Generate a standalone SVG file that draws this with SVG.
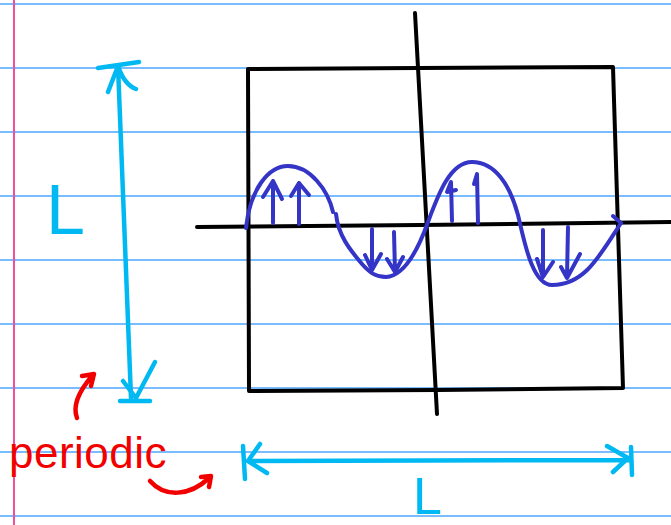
<svg xmlns="http://www.w3.org/2000/svg" width="671" height="525" viewBox="0 0 671 525">
<style>
.rule{stroke:#4da6ff;stroke-width:1.5}
.ink{fill:none;stroke-linecap:round;stroke-linejoin:round}
.blk{stroke:#000;stroke-width:4}
.cyan{stroke:#00b9f2;stroke-width:4.5}
.blue{stroke:#3434c6;stroke-width:4}
.red{stroke:#f20000;stroke-width:4.5}
.hand{font-family:"Liberation Sans",sans-serif}
</style>
<rect width="671" height="525" fill="#fff"/>
<g id="paper">
<line class="rule" x1="0" y1="4" x2="671" y2="4"/>
<line class="rule" x1="0" y1="68" x2="671" y2="68"/>
<line class="rule" x1="0" y1="132" x2="671" y2="132"/>
<line class="rule" x1="0" y1="196" x2="671" y2="196"/>
<line class="rule" x1="0" y1="260" x2="671" y2="260"/>
<line class="rule" x1="0" y1="324" x2="671" y2="324"/>
<line class="rule" x1="0" y1="388" x2="671" y2="388"/>
<line class="rule" x1="0" y1="452" x2="671" y2="452"/>
<line class="rule" x1="0" y1="516" x2="671" y2="516"/>
<line x1="14" y1="0" x2="14" y2="525" stroke="#f0509a" stroke-width="2"/>
</g>
<g id="box">
<path class="ink blk" d="M248,69 L418,68 L613,67 L614,100 L623,388 L437,390 L249,391 L248,69"/>
<line class="ink blk" x1="415" y1="13" x2="437" y2="414"/>
<path class="ink blk" d="M197,227 L420,225 L671,222"/>
</g>
<g id="wave">
<path class="ink blue" d="M246,228 C250,190 268,166 288,166 C310,166 328,190 333,212 M336,214 C338,235 350,250 362,264 C370,273 376,277 386,277 C404,276 418,250 428,222 C438,195 450,162 472,162 C495,162 510,185 518,215 C524,240 532,285 552,285 C585,285 600,255 621,223 L613,216"/>
<path class="ink blue" d="M273,223 L273,181 M263,197 L273,181 L282,199"/>
<path class="ink blue" d="M299,224 L299,183 M291,196 L299,183 L309,195"/>
<path class="ink blue" d="M452,221 L451,182 L447,192 L456,190"/>
<path class="ink blue" d="M478,223 L477,174 L474,184"/>
<path class="ink blue" d="M372,229 L372,270 M365,255 L372,270 L381,254"/>
<path class="ink blue" d="M394,232 L395,272 M387,259 L395,272 L403,257"/>
<path class="ink blue" d="M543,230 L543,276 M537,259 L543,277 L553,262"/>
<path class="ink blue" d="M568,227 L567,277 M561,267 L567,278 L580,254"/>
</g>
<g id="dim-vertical">
<path class="ink cyan" d="M98,68 L139,62 M118,66 L131,398 M108,92 L118,66 C122,78 128,86 136,89"/>
<path class="ink cyan" d="M123,381 L136,398 L155,362 M120,401 L150,401"/>
<text class="hand" x="46" y="234" font-size="70" font-weight="300" fill="#00b9f2">L</text>
</g>
<g id="dim-horizontal">
<path class="ink cyan" d="M243,446 L245,479 M260,444 L248,461 L267,473 M248,461 L630,460 M607,446 L628,458 L613,472 M631,447 L632,475"/>
<text class="hand" x="413" y="514" font-size="52" fill="#00b9f2">L</text>
</g>
<g id="periodic">
<text class="hand" x="9" y="468" font-size="44" fill="#f20000" letter-spacing="0.5">periodic</text>
<path class="ink red" d="M77,418 C72,405 80,390 92,376 M82,376 L94,374 L91,386"/>
<path class="ink red" d="M150,481 C165,498 190,496 209,478 M201,477 L211,476 L209,487"/>
</g>
</svg>
